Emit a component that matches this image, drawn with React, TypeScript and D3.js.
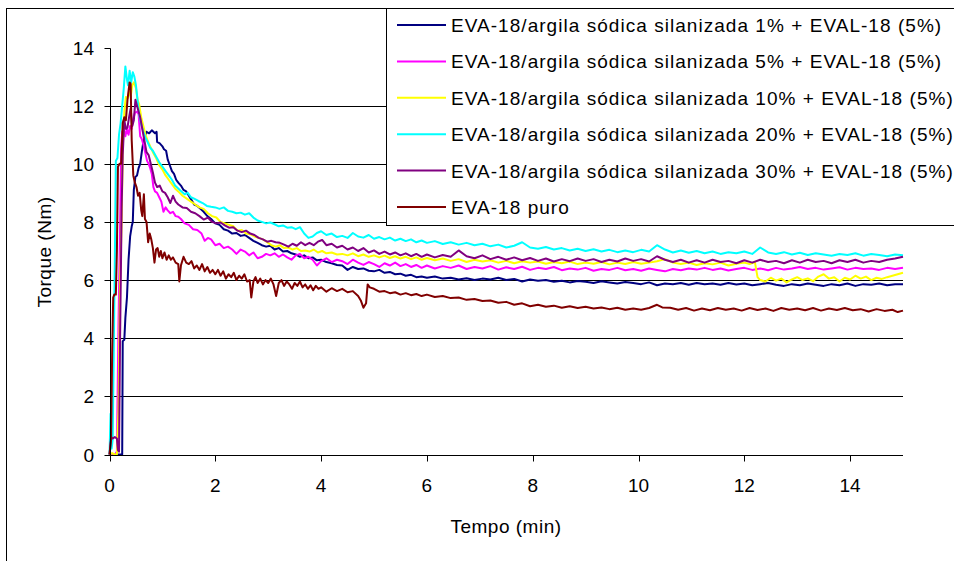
import React from "react";
import * as d3 from "d3";

// Torque curves (time in min, torque in Nm)
const eva1: [number, number][] = [[0,0],[0.05,0],[0.1,0],[0.15,0],[0.2,0],[0.24,0],[0.25,3.9],[0.28,3.95],[0.3,4.7],[0.33,5.4],[0.36,6.7],[0.39,7.5],[0.42,7.85],[0.44,8.0],[0.46,9.1],[0.49,9.55],[0.52,9.6],[0.55,9.85],[0.58,10.0],[0.61,10.4],[0.64,10.75],[0.67,10.95],[0.7,11.1],[0.75,11.05],[0.8,11.15],[0.86,11.05],[0.89,11.1],[0.9,10.75],[0.95,10.7],[1.0,10.6],[1.03,10.5],[1.07,10.45],[1.1,10.15],[1.14,9.95],[1.18,9.75],[1.22,9.65],[1.26,9.45],[1.3,9.35],[1.35,9.25],[1.4,9.1],[1.45,9.05],[1.5,8.9],[1.55,8.75],[1.6,8.6],[1.66,8.55],[1.72,8.45],[1.78,8.35],[1.85,8.2],[1.92,8.1],[2.0,7.95],[2.08,7.9],[2.16,7.75],[2.24,7.7],[2.32,7.6],[2.4,7.62],[2.48,7.52],[2.56,7.55],[2.64,7.45],[2.72,7.35],[2.8,7.28],[2.88,7.2],[2.96,7.15],[3.04,7.18],[3.12,7.05],[3.2,7.1],[3.28,6.98],[3.36,7.0],[3.44,6.92],[3.52,6.88],[3.6,6.8],[3.68,6.85],[3.76,6.75],[3.84,6.78],[3.92,6.68],[4.0,6.7],[4.1,6.62],[4.2,6.58],[4.3,6.52],[4.4,6.5],[4.5,6.35],[4.6,6.45],[4.7,6.38],[4.8,6.4],[4.9,6.32],[5.0,6.3],[5.1,6.35],[5.2,6.25],[5.3,6.28],[5.4,6.2],[5.5,6.22],[5.6,6.15],[5.7,6.18],[5.8,6.1],[5.9,6.12],[6.0,6.08],[6.15,6.12],[6.3,6.05],[6.45,6.08],[6.6,6.02],[6.75,6.06],[6.9,6.0],[7.05,6.05],[7.2,6.02],[7.35,6.08],[7.5,6.0],[7.65,6.04],[7.8,5.95],[7.95,6.02],[8.1,5.98],[8.25,6.0],[8.4,5.94],[8.55,5.98],[8.7,5.92],[8.85,5.97],[9.0,5.94],[9.15,5.9],[9.3,5.96],[9.45,5.92],[9.6,5.88],[9.75,5.93],[9.9,5.9],[10.05,5.86],[10.2,5.92],[10.35,5.82],[10.5,5.88],[10.65,5.86],[10.8,5.9],[10.95,5.84],[11.1,5.9],[11.25,5.86],[11.4,5.88],[11.55,5.84],[11.7,5.9],[11.85,5.85],[12.0,5.88],[12.15,5.82],[12.3,5.86],[12.45,5.9],[12.6,5.84],[12.75,5.8],[12.9,5.86],[13.05,5.82],[13.2,5.88],[13.35,5.84],[13.5,5.8],[13.65,5.86],[13.8,5.82],[13.95,5.88],[14.1,5.8],[14.25,5.86],[14.4,5.84],[14.55,5.88],[14.7,5.82],[14.85,5.86],[15.0,5.86]];

const eva5: [number, number][] = [[0,0],[0.05,0],[0.1,0],[0.14,0.1],[0.17,4.5],[0.2,7.8],[0.22,10.5],[0.24,11.1],[0.27,11.2],[0.3,10.95],[0.33,11.2],[0.36,11.0],[0.39,11.3],[0.42,11.2],[0.45,11.55],[0.48,11.75],[0.52,11.8],[0.55,11.7],[0.58,10.95],[0.61,10.85],[0.65,10.6],[0.68,10.35],[0.71,10.1],[0.74,10.0],[0.77,9.85],[0.8,9.65],[0.83,9.2],[0.86,9.05],[0.9,9.0],[0.94,8.85],[0.98,8.7],[1.02,8.35],[1.06,8.5],[1.1,8.4],[1.15,8.3],[1.2,8.35],[1.25,8.2],[1.3,8.18],[1.35,8.1],[1.42,7.95],[1.5,7.9],[1.58,7.75],[1.66,7.72],[1.74,7.6],[1.8,7.35],[1.86,7.45],[1.92,7.4],[2.0,7.2],[2.08,7.25],[2.16,7.1],[2.24,7.15],[2.32,7.05],[2.4,6.9],[2.48,7.05],[2.56,6.98],[2.64,6.85],[2.72,6.95],[2.8,6.75],[2.88,6.8],[2.96,6.9],[3.04,6.85],[3.12,6.92],[3.2,6.8],[3.28,6.88],[3.36,6.78],[3.44,6.7],[3.52,6.85],[3.6,6.9],[3.68,6.75],[3.76,6.8],[3.84,6.7],[3.92,6.5],[4.0,6.65],[4.1,6.75],[4.2,6.62],[4.3,6.7],[4.4,6.65],[4.5,6.55],[4.6,6.7],[4.7,6.6],[4.8,6.52],[4.9,6.62],[5.0,6.55],[5.1,6.45],[5.2,6.58],[5.3,6.5],[5.4,6.6],[5.5,6.48],[5.6,6.55],[5.7,6.45],[5.8,6.52],[5.9,6.42],[6.0,6.5],[6.15,6.4],[6.3,6.48],[6.45,6.42],[6.6,6.5],[6.75,6.38],[6.9,6.45],[7.05,6.4],[7.2,6.48],[7.35,6.36],[7.5,6.44],[7.65,6.38],[7.8,6.46],[7.95,6.35],[8.1,6.42],[8.25,6.38],[8.4,6.45],[8.55,6.34],[8.7,6.4],[8.85,6.36],[9.0,6.42],[9.15,6.32],[9.3,6.38],[9.45,6.35],[9.6,6.42],[9.75,6.34],[9.9,6.38],[10.05,6.32],[10.2,6.4],[10.35,6.35],[10.5,6.3],[10.65,6.38],[10.8,6.34],[10.95,6.4],[11.1,6.36],[11.25,6.42],[11.4,6.35],[11.55,6.4],[11.7,6.33],[11.85,6.38],[12.0,6.42],[12.15,6.35],[12.3,6.4],[12.45,6.34],[12.6,6.42],[12.75,6.36],[12.9,6.4],[13.05,6.45],[13.2,6.38],[13.35,6.42],[13.5,6.36],[13.65,6.4],[13.8,6.44],[13.95,6.36],[14.1,6.42],[14.25,6.38],[14.4,6.4],[14.55,6.35],[14.7,6.42],[14.85,6.38],[15.0,6.42]];

const eva10: [number, number][] = [[0,0],[0.05,0.05],[0.1,0],[0.14,0],[0.17,1.5],[0.2,6.0],[0.23,8.0],[0.25,10.5],[0.28,11.8],[0.31,12.3],[0.34,12.25],[0.37,12.5],[0.4,12.3],[0.43,12.7],[0.46,12.8],[0.5,12.6],[0.53,12.2],[0.56,12.05],[0.6,11.6],[0.64,11.3],[0.68,11.0],[0.72,10.8],[0.77,10.6],[0.82,10.4],[0.88,10.2],[0.94,9.95],[1.0,9.8],[1.06,9.6],[1.12,9.45],[1.18,9.3],[1.24,9.15],[1.3,9.05],[1.38,8.9],[1.46,8.8],[1.54,8.7],[1.62,8.6],[1.7,8.5],[1.78,8.45],[1.86,8.3],[1.94,8.2],[2.02,8.15],[2.1,8.0],[2.18,7.95],[2.26,7.9],[2.34,7.85],[2.42,7.7],[2.5,7.72],[2.58,7.6],[2.66,7.58],[2.74,7.5],[2.82,7.45],[2.9,7.4],[2.98,7.3],[3.06,7.2],[3.14,7.15],[3.22,7.2],[3.3,7.1],[3.38,7.12],[3.46,7.05],[3.54,7.1],[3.62,7.0],[3.7,7.02],[3.78,6.98],[3.86,7.05],[3.94,6.95],[4.02,7.0],[4.1,6.92],[4.2,6.95],[4.3,6.88],[4.4,6.9],[4.5,6.85],[4.6,6.92],[4.7,6.82],[4.8,6.88],[4.9,6.8],[5.0,6.85],[5.1,6.78],[5.2,6.84],[5.3,6.76],[5.4,6.82],[5.5,6.74],[5.6,6.8],[5.7,6.72],[5.8,6.78],[5.9,6.7],[6.0,6.76],[6.15,6.68],[6.3,6.74],[6.45,6.66],[6.6,6.72],[6.75,6.62],[6.9,6.7],[7.05,6.64],[7.2,6.68],[7.35,6.6],[7.5,6.66],[7.65,6.58],[7.8,6.65],[7.95,6.6],[8.1,6.64],[8.25,6.56],[8.4,6.62],[8.55,6.58],[8.7,6.64],[8.85,6.55],[9.0,6.6],[9.15,6.56],[9.3,6.62],[9.45,6.54],[9.6,6.6],[9.75,6.55],[9.9,6.62],[10.05,6.56],[10.2,6.6],[10.35,6.65],[10.5,6.72],[10.65,6.6],[10.8,6.55],[10.95,6.6],[11.1,6.52],[11.25,6.58],[11.4,6.54],[11.55,6.6],[11.7,6.5],[11.85,6.56],[12.0,6.6],[12.1,6.55],[12.2,6.62],[12.25,6.1],[12.3,6.0],[12.4,5.95],[12.5,6.08],[12.6,5.98],[12.7,6.05],[12.8,5.92],[12.9,6.02],[13.0,6.1],[13.1,6.0],[13.2,6.06],[13.3,5.96],[13.4,6.12],[13.5,6.2],[13.6,6.05],[13.7,6.1],[13.8,5.95],[13.9,6.08],[14.0,6.02],[14.1,6.15],[14.2,6.05],[14.3,6.12],[14.4,6.0],[14.5,6.08],[14.6,6.04],[14.7,6.1],[14.8,6.15],[14.9,6.2],[15.0,6.25]];

const eva20: [number, number][] = [[0,0],[0.02,1.4],[0.04,0.2],[0.06,0.5],[0.08,3.5],[0.1,6.5],[0.12,10.1],[0.15,10.2],[0.18,11.0],[0.21,11.4],[0.24,12.0],[0.27,12.6],[0.3,13.35],[0.33,12.9],[0.35,12.7],[0.38,13.2],[0.41,12.8],[0.44,13.15],[0.47,13.0],[0.5,12.7],[0.53,12.2],[0.56,11.7],[0.6,11.35],[0.64,11.1],[0.68,10.9],[0.72,10.75],[0.77,10.55],[0.82,10.45],[0.88,10.25],[0.94,10.05],[1.0,9.9],[1.06,9.75],[1.12,9.6],[1.18,9.45],[1.24,9.25],[1.3,9.15],[1.36,9.05],[1.42,8.95],[1.48,9.0],[1.54,8.85],[1.6,8.8],[1.68,8.72],[1.76,8.65],[1.84,8.55],[1.92,8.52],[2.0,8.5],[2.08,8.45],[2.16,8.5],[2.24,8.38],[2.32,8.35],[2.4,8.3],[2.48,8.32],[2.56,8.25],[2.64,8.3],[2.72,8.15],[2.8,8.05],[2.88,8.0],[2.96,7.95],[3.04,7.98],[3.12,7.92],[3.2,7.85],[3.28,7.88],[3.36,7.8],[3.44,7.82],[3.52,7.75],[3.6,7.82],[3.68,7.6],[3.76,7.45],[3.84,7.5],[3.92,7.62],[4.0,7.68],[4.1,7.55],[4.2,7.6],[4.3,7.48],[4.4,7.52],[4.5,7.45],[4.6,7.62],[4.7,7.5],[4.8,7.46],[4.9,7.55],[5.0,7.42],[5.1,7.48],[5.2,7.4],[5.3,7.46],[5.4,7.36],[5.5,7.42],[5.6,7.34],[5.7,7.4],[5.8,7.3],[5.9,7.36],[6.0,7.28],[6.15,7.34],[6.3,7.24],[6.45,7.3],[6.6,7.22],[6.75,7.28],[6.9,7.2],[7.05,7.25],[7.2,7.16],[7.35,7.22],[7.5,7.12],[7.65,7.18],[7.8,7.3],[7.95,7.12],[8.1,7.08],[8.25,7.14],[8.4,7.05],[8.55,7.1],[8.7,7.02],[8.85,7.08],[9.0,7.0],[9.15,7.06],[9.3,6.98],[9.45,7.04],[9.6,6.96],[9.75,7.02],[9.9,6.96],[10.05,7.04],[10.2,6.98],[10.35,7.2],[10.5,7.05],[10.65,6.95],[10.8,7.02],[10.95,6.94],[11.1,7.0],[11.25,6.92],[11.4,6.98],[11.55,6.9],[11.7,6.96],[11.85,6.92],[12.0,6.98],[12.15,6.9],[12.3,7.12],[12.45,6.95],[12.6,6.9],[12.75,6.96],[12.9,6.88],[13.05,6.94],[13.2,6.86],[13.35,6.92],[13.5,6.88],[13.65,6.84],[13.8,6.9],[13.95,6.86],[14.1,6.92],[14.25,6.84],[14.4,6.9],[14.55,6.86],[14.7,6.82],[14.85,6.88],[15.0,6.85]];

const eva30: [number, number][] = [[0,0],[0.03,0.6],[0.06,0.55],[0.1,0.6],[0.14,0.55],[0.16,0.15],[0.18,0.1],[0.2,4.0],[0.23,8.5],[0.25,10.3],[0.28,11.5],[0.31,11.2],[0.34,11.25],[0.37,11.6],[0.4,11.9],[0.43,11.3],[0.46,11.5],[0.49,12.2],[0.52,12.0],[0.55,11.8],[0.58,11.6],[0.61,11.3],[0.64,11.0],[0.67,10.7],[0.7,10.4],[0.74,10.3],[0.78,10.0],[0.82,9.7],[0.86,9.35],[0.9,9.2],[0.95,9.25],[1.0,9.05],[1.05,9.0],[1.1,8.85],[1.15,8.65],[1.2,8.9],[1.25,8.7],[1.3,8.6],[1.38,8.5],[1.46,8.48],[1.54,8.35],[1.62,8.3],[1.7,8.2],[1.78,8.08],[1.86,8.15],[1.94,8.0],[2.02,7.95],[2.1,7.98],[2.18,7.88],[2.26,7.8],[2.34,7.82],[2.42,7.7],[2.5,7.65],[2.58,7.7],[2.66,7.6],[2.74,7.55],[2.82,7.45],[2.9,7.4],[2.98,7.32],[3.06,7.35],[3.14,7.3],[3.22,7.28],[3.3,7.22],[3.38,7.15],[3.46,7.25],[3.54,7.18],[3.62,7.3],[3.7,7.2],[3.78,7.28],[3.86,7.2],[3.94,7.32],[4.02,7.38],[4.1,7.2],[4.2,7.25],[4.3,7.12],[4.4,7.18],[4.5,7.05],[4.6,7.12],[4.7,7.0],[4.8,7.1],[4.9,6.95],[5.0,7.02],[5.1,6.9],[5.2,6.98],[5.3,6.88],[5.4,6.95],[5.5,6.85],[5.6,6.92],[5.7,6.82],[5.8,6.9],[5.9,6.8],[6.0,6.88],[6.15,6.78],[6.3,6.86],[6.45,6.8],[6.6,7.02],[6.75,6.82],[6.9,6.75],[7.05,6.85],[7.2,6.72],[7.35,6.8],[7.5,6.7],[7.65,6.78],[7.8,6.68],[7.95,6.76],[8.1,6.66],[8.25,6.74],[8.4,6.64],[8.55,6.72],[8.7,6.65],[8.85,6.74],[9.0,6.66],[9.15,6.72],[9.3,6.62],[9.45,6.7],[9.6,6.64],[9.75,6.74],[9.9,6.66],[10.05,6.72],[10.2,6.64],[10.35,6.82],[10.5,6.7],[10.65,6.62],[10.8,6.7],[10.95,6.6],[11.1,6.68],[11.25,6.6],[11.4,6.7],[11.55,6.62],[11.7,6.66],[11.85,6.58],[12.0,6.68],[12.15,6.6],[12.3,6.7],[12.45,6.62],[12.6,6.66],[12.75,6.58],[12.9,6.68],[13.05,6.6],[13.2,6.7],[13.35,6.62],[13.5,6.66],[13.65,6.58],[13.8,6.68],[13.95,6.62],[14.1,6.7],[14.25,6.6],[14.4,6.66],[14.55,6.62],[14.7,6.7],[14.85,6.74],[15.0,6.8]];

const evaPuro: [number, number][] = [[0,0],[0.03,0.5],[0.05,3.5],[0.07,5.4],[0.09,5.5],[0.12,5.5],[0.14,7.0],[0.16,9.9],[0.19,10.0],[0.22,10.0],[0.25,11.4],[0.28,11.6],[0.31,11.5],[0.34,12.2],[0.38,12.8],[0.4,12.75],[0.42,10.8],[0.45,9.6],[0.48,9.35],[0.51,9.2],[0.54,8.9],[0.57,9.0],[0.6,8.4],[0.62,8.2],[0.65,8.95],[0.67,8.1],[0.7,8.0],[0.73,7.3],[0.76,7.6],[0.79,7.4],[0.82,7.1],[0.85,6.6],[0.88,7.05],[0.91,7.1],[0.94,6.8],[0.97,7.0],[1.0,6.75],[1.04,6.95],[1.08,6.7],[1.12,6.85],[1.16,6.7],[1.2,6.78],[1.25,6.6],[1.3,6.55],[1.32,5.95],[1.35,6.5],[1.4,6.8],[1.45,6.6],[1.5,6.55],[1.55,6.65],[1.6,6.4],[1.65,6.5],[1.7,6.35],[1.75,6.55],[1.8,6.3],[1.85,6.45],[1.9,6.25],[1.95,6.35],[2.0,6.2],[2.05,6.35],[2.1,6.15],[2.15,6.3],[2.2,6.05],[2.25,6.2],[2.3,6.1],[2.35,6.25],[2.4,6.0],[2.45,6.15],[2.5,6.05],[2.55,6.2],[2.6,5.95],[2.65,6.0],[2.68,5.4],[2.72,5.95],[2.76,6.1],[2.8,5.9],[2.85,6.05],[2.9,5.85],[2.95,6.0],[3.0,5.9],[3.05,6.05],[3.1,5.85],[3.15,5.45],[3.2,5.9],[3.25,6.0],[3.3,5.8],[3.35,5.95],[3.4,5.85],[3.45,5.7],[3.5,5.9],[3.55,5.8],[3.6,5.95],[3.65,5.75],[3.7,5.85],[3.75,5.7],[3.8,5.82],[3.85,5.65],[3.9,5.8],[3.95,5.7],[4.0,5.75],[4.1,5.6],[4.2,5.72],[4.3,5.62],[4.4,5.7],[4.5,5.58],[4.6,5.62],[4.7,5.45],[4.75,5.3],[4.8,5.05],[4.85,5.2],[4.88,5.85],[4.92,5.75],[5.0,5.7],[5.1,5.6],[5.2,5.62],[5.3,5.55],[5.4,5.58],[5.5,5.5],[5.6,5.55],[5.7,5.48],[5.8,5.52],[5.9,5.45],[6.0,5.5],[6.15,5.42],[6.3,5.45],[6.45,5.38],[6.6,5.4],[6.75,5.32],[6.9,5.35],[7.05,5.28],[7.2,5.3],[7.35,5.22],[7.5,5.25],[7.65,5.15],[7.8,5.2],[7.95,5.1],[8.1,5.15],[8.25,5.08],[8.4,5.12],[8.55,5.05],[8.7,5.1],[8.85,5.04],[9.0,5.08],[9.15,5.02],[9.3,5.06],[9.45,5.0],[9.6,5.05],[9.75,4.98],[9.9,5.02],[10.05,4.98],[10.2,5.04],[10.35,5.15],[10.45,5.06],[10.6,5.05],[10.75,4.98],[10.9,5.04],[11.05,4.95],[11.2,5.02],[11.35,4.96],[11.5,5.04],[11.65,4.98],[11.8,5.02],[11.95,4.95],[12.1,5.04],[12.25,4.97],[12.4,5.02],[12.55,4.94],[12.7,5.04],[12.85,4.98],[13.0,5.02],[13.15,4.96],[13.3,5.04],[13.45,4.95],[13.6,5.02],[13.75,4.97],[13.9,5.04],[14.05,4.96],[14.2,5.0],[14.35,4.92],[14.5,5.0],[14.65,4.94],[14.8,4.98],[14.9,4.9],[15.0,4.95]];

const seriesNames = [
  "EVA-18/argila sódica silanizada 1% + EVAL-18 (5%)",
  "EVA-18/argila sódica silanizada 5% + EVAL-18 (5%)",
  "EVA-18/argila sódica silanizada 10% + EVAL-18 (5%)",
  "EVA-18/argila sódica silanizada 20% + EVAL-18 (5%)",
  "EVA-18/argila sódica silanizada 30% + EVAL-18 (5%)",
  "EVA-18 puro",
];
const seriesData = [eva1, eva5, eva10, eva20, eva30, evaPuro];
const seriesColors = ["#000080", "#FF00FF", "#FFFF00", "#00FFFF", "#800080", "#800000"];

const xTicks = [0, 2, 4, 6, 8, 10, 12, 14];
const yTicks = [0, 2, 4, 6, 8, 10, 12, 14];
const gridValues = [2, 4, 6, 8, 10, 12];

const FONT = "'Liberation Sans', Arial, Helvetica, sans-serif";

export default function App() {
  const W = 954;
  const H = 561;
  const x = d3.scaleLinear().domain([0, 15]).range([109.5, 903]);
  const y = d3.scaleLinear().domain([0, 14]).range([454.5, 47.5]);
  const line = d3
    .line<[number, number]>()
    .x((d) => x(d[0]))
    .y((d) => y(d[1]));

  const snap = (v: number) => Math.round(v) + 0.5;
  const x0 = snap(x(0));
  const yBase = snap(y(0));

  const legendLeft = 386.5;
  const legendTop = 8.5;
  const legendBottom = 225.5;
  const rowY0 = 25;
  const rowStep = 36.4;

  return (
    <svg
      width={W}
      height={H}
      style={{ position: "absolute", left: 0, top: 0, background: "#fff" }}
      fontFamily={FONT}
    >
      {/* chart frame */}
      <rect x={6.5} y={8.5} width={1100} height={700} fill="#fff" stroke="#000" strokeWidth={1} />

      {/* horizontal gridlines */}
      {gridValues.map((g) => (
        <line key={g} x1={x0} x2={x(15)} y1={snap(y(g))} y2={snap(y(g))} stroke="#000" strokeWidth={1} />
      ))}

      {/* data series */}
      {seriesData.map((s, i) => (
        <path
          key={i}
          d={line(s) || ""}
          fill="none"
          stroke={seriesColors[i]}
          strokeWidth={2}
          strokeLinejoin="round"
        />
      ))}

      {/* axes */}
      <line x1={x0} x2={x0} y1={snap(y(14))} y2={yBase} stroke="#000" />
      <line x1={x0} x2={x(15)} y1={yBase} y2={yBase} stroke="#000" />
      {yTicks.map((t) => (
        <g key={"y" + t}>
          <line x1={x0 - 6} x2={x0} y1={snap(y(t))} y2={snap(y(t))} stroke="#000" />
          <text x={94} y={y(t) + 7} textAnchor="end" fontSize={19} fill="#000">
            {t}
          </text>
        </g>
      ))}
      {xTicks.map((t) => (
        <g key={"x" + t}>
          <line x1={snap(x(t))} x2={snap(x(t))} y1={yBase} y2={yBase + 6} stroke="#000" />
          <text x={x(t)} y={492} textAnchor="middle" fontSize={19} fill="#000">
            {t}
          </text>
        </g>
      ))}

      {/* axis titles */}
      <text x={506} y={533} textAnchor="middle" fontSize={19} letterSpacing={0.5} fill="#000">
        Tempo (min)
      </text>
      <text
        transform={`translate(51,252) rotate(-90)`}
        textAnchor="middle"
        fontSize={19}
        letterSpacing={0.5}
        fill="#000"
      >
        Torque (Nm)
      </text>

      {/* legend */}
      <rect
        x={legendLeft}
        y={legendTop}
        width={700}
        height={legendBottom - legendTop}
        fill="#fff"
        stroke="#000"
        strokeWidth={1}
      />
      {seriesNames.map((name, i) => {
        const ry = rowY0 + i * rowStep;
        return (
          <g key={name}>
            <line x1={397} x2={446} y1={ry} y2={ry} stroke={seriesColors[i]} strokeWidth={2} />
            <text x={451} y={ry + 7} fontSize={19} letterSpacing={1.04} fill="#000">
              {name}
            </text>
          </g>
        );
      })}
    </svg>
  );
}
